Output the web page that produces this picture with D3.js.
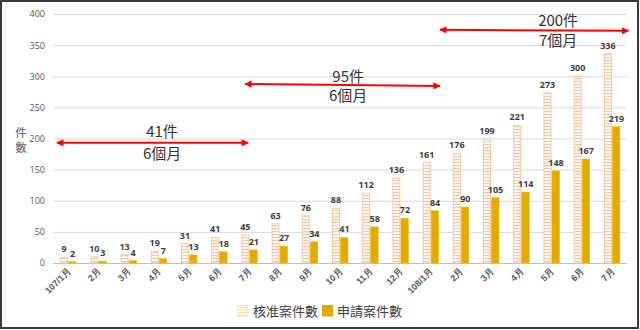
<!DOCTYPE html>
<html><head><meta charset="utf-8">
<script src="https://cdn.jsdelivr.net/npm/d3@7"></script>
<style>
html,body{margin:0;padding:0;background:#fff;}
svg{display:block;font-family:"Open Sans","Noto Sans CJK TC",sans-serif;}
</style></head>
<body><svg id="c" width="640" height="330"></svg>
<script>
const categories = ["107/1月","2月","3月","4月","5月","6月","7月","8月","9月","10月","11月","12月","108/1月","2月","3月","4月","5月","6月","7月"];
const approved = [9,10,13,19,31,41,45,63,76,88,112,136,161,176,199,221,273,300,336];
const applied  = [2,3,4,7,13,18,21,27,34,41,58,72,84,90,105,114,148,167,219];
const yTicks = [0,50,100,150,200,250,300,350,400];
const seriesNames = ["核准案件數","申請案件數"];
// annotations: arrow endpoints in (category index units, value units)
const arrowX0 = [0.13, 6.36, 12.81];
const arrowX1 = [6.46, 12.81, 19.05];
const arrowY0 = [193, 287.5, 374.5];
const arrowY1 = [193, 284.5, 373];
const noteTop = ["41件","95件","200件"];
const noteBottom = ["6個月","6個月","7個月"];
const noteX = [3.61, 9.77, 16.72];
const noteTopY = [202, 291, 380];
const noteBotY = [167, 260, 348];

const svg = d3.select("#c");
const W=640,H=330;
const x0=53, x1=627;
const y = d3.scaleLinear().domain([0,400]).range([263,14]);
const x = d3.scaleBand().domain(d3.range(categories.length)).range([x0,x1]).padding(0);
const xi = d3.scaleLinear().domain([0,categories.length]).range([x0,x1]);
const bw = x.bandwidth();

const defs = svg.append("defs");
const pat = defs.append("pattern").attr("id","hatch").attr("patternUnits","userSpaceOnUse")
  .attr("width",6).attr("height",3);
pat.append("rect").attr("width",6).attr("height",3).attr("fill","#fff");
pat.append("rect").attr("y",0).attr("width",6).attr("height",1.2).attr("fill","#f9c6a3");
const pat2 = defs.append("pattern").attr("id","hatch2").attr("patternUnits","userSpaceOnUse")
  .attr("width",6).attr("height",2.6);
pat2.append("rect").attr("width",6).attr("height",2.6).attr("fill","#fff");
pat2.append("rect").attr("width",6).attr("height",1.1).attr("fill","#fbd9a0");
const mk = defs.append("marker").attr("id","ah").attr("viewBox","0 0 10 10").attr("refX",9).attr("refY",5)
  .attr("markerWidth",4).attr("markerHeight",3.6).attr("orient","auto-start-reverse").attr("markerUnits","strokeWidth");
mk.append("path").attr("d","M0,0 L10,5 L0,10 z").attr("fill","#ff0000");

// frame
svg.append("rect").attr("x",1).attr("y",1).attr("width",W-3).attr("height",H-3)
  .attr("fill","none").attr("stroke","#3a3a3a").attr("stroke-width",2);

// grid
const yAxis = d3.axisLeft(y).tickValues(yTicks).tickSize(-(x1-x0)).tickPadding(8);
const gy = svg.append("g").attr("transform",`translate(${x0},0)`).call(yAxis);
gy.select(".domain").remove();
gy.selectAll(".tick line").attr("stroke","#d9d9d9").attr("stroke-width",1);
gy.selectAll(".tick text").attr("fill","#595959").attr("font-size","9px").attr("font-family","Open Sans, sans-serif");
gy.selectAll(".tick").filter(d=>d===0).select("line").attr("stroke","#bfbfbf");

// x axis labels
const xAxis = d3.axisBottom(x).tickFormat(i=>categories[i]).tickSize(0).tickPadding(0);
const gx = svg.append("g").attr("transform",`translate(0,${y(0)})`).call(xAxis);
gx.select(".domain").remove();
gx.selectAll(".tick text").attr("fill","#595959").attr("font-size","9px").attr("font-weight","bold")
  .attr("text-anchor","end").attr("dy","0").attr("transform","translate(3,9) rotate(-45)");

// bars
const g = svg.append("g");
g.selectAll(".ap").data(approved).join("rect")
  .attr("x",(d,i)=>x(i)+bw/2-7.5).attr("width",7)
  .attr("y",d=>y(d)).attr("height",d=>y(0)-y(d))
  .attr("fill","url(#hatch)").attr("stroke","#f9c6a3").attr("stroke-width",1);
g.selectAll(".aq").data(applied).join("rect")
  .attr("x",(d,i)=>x(i)+bw/2+0.5).attr("width",7.5)
  .attr("y",d=>y(d)).attr("height",d=>y(0)-y(d))
  .attr("fill","#e3aa00").attr("stroke","#f0bc10").attr("stroke-width",0.6);

// value labels
const lab = svg.append("g").attr("font-size","9px").attr("font-weight","bold").attr("fill","#404040").attr("text-anchor","middle");
lab.selectAll(".la").data(approved).join("text")
  .attr("x",(d,i)=>x(i)+bw/2-4).attr("y",d=>y(d)-5).text(d=>d);
lab.selectAll(".lb").data(applied).join("text")
  .attr("x",(d,i)=>x(i)+bw/2+4.5).attr("y",d=>y(d)-5).text(d=>d);

// y title
svg.append("text").attr("x",21).attr("y",137).attr("text-anchor","middle").attr("font-size","11.5px")
  .attr("fill","#595959").attr("font-family","Noto Sans CJK TC").text("件");
svg.append("text").attr("x",21).attr("y",152).attr("text-anchor","middle").attr("font-size","11.5px")
  .attr("fill","#595959").attr("font-family","Noto Sans CJK TC").text("數");

// arrows
const ag = svg.append("g");
arrowX0.forEach((v,i)=>{
  ag.append("line").attr("x1",xi(v)).attr("y1",y(arrowY0[i])).attr("x2",xi(arrowX1[i])).attr("y2",y(arrowY1[i]))
    .attr("stroke","#ff0000").attr("stroke-width",2)
    .attr("marker-start","url(#ah)").attr("marker-end","url(#ah)");
  ag.append("text").attr("x",xi(noteX[i])).attr("y",y(noteTopY[i])).attr("text-anchor","middle")
    .attr("font-size","15px").attr("fill","#333").attr("font-family","Noto Sans CJK TC").text(noteTop[i]);
  ag.append("text").attr("x",xi(noteX[i])).attr("y",y(noteBotY[i])).attr("text-anchor","middle")
    .attr("font-size","15px").attr("fill","#333").attr("font-family","Noto Sans CJK TC").text(noteBottom[i]);
});

// legend
const lg = svg.append("g").attr("font-size","13px").attr("fill","#404040").attr("font-family","Noto Sans CJK TC");
lg.append("rect").attr("x",237.5).attr("y",305.5).attr("width",10).attr("height",11).attr("fill","url(#hatch2)").attr("stroke","#fbe0b5").attr("stroke-width",0.8);
lg.append("text").attr("x",253).attr("y",316).text(seriesNames[0]);
lg.append("rect").attr("x",322).attr("y",305).attr("width",11).attr("height",11.5).attr("fill","#e3aa00");
lg.append("text").attr("x",337).attr("y",316).text(seriesNames[1]);
</script></body></html>
